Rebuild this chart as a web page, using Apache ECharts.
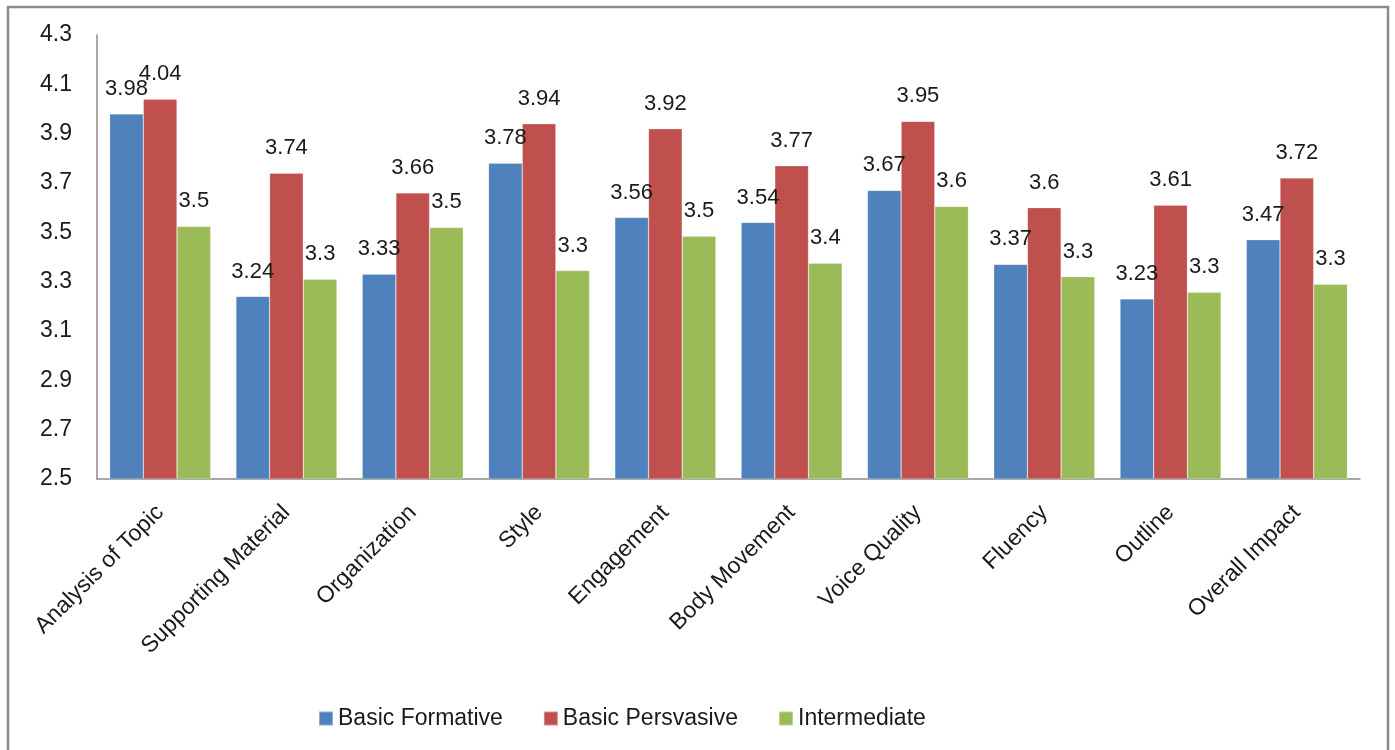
<!DOCTYPE html>
<html><head><meta charset="utf-8">
<script src="https://cdn.jsdelivr.net/npm/echarts@6/dist/echarts.min.js"></script>
<style>html,body{margin:0;padding:0;background:#fff}#c{width:1395px;height:750px}</style>
</head><body><div id="c"></div>
<script>
const categories = ["Analysis of Topic","Supporting Material","Organization","Style","Engagement","Body Movement","Voice Quality","Fluency","Outline","Overall Impact"];
const basicFormative = [3.98,3.24,3.33,3.78,3.56,3.54,3.67,3.37,3.23,3.47];
const basicPersuasive = [4.04,3.74,3.66,3.94,3.92,3.77,3.95,3.60,3.61,3.72];
const intermediate = [3.524,3.31,3.52,3.345,3.484,3.375,3.605,3.32,3.257,3.29];
const seriesNames = ["Basic Formative","Basic Persvasive","Intermediate"];
const labelDecimals = [2,2,1];
const yTickLabels = ["2.5","2.7","2.9","3.1","3.3","3.5","3.7","3.9","4.1","4.3"];
const BASE = 2.5;
const colors = ["#4F81BD","#C0504D","#9BBB59"];
const FONT = "Liberation Sans";
const chart = echarts.init(document.getElementById('c'));
const all = [basicFormative, basicPersuasive, intermediate];
chart.setOption({
  animation:false,
  textStyle:{fontFamily:FONT},
  graphic:[{type:'rect',shape:{x:8,y:7,width:1380,height:760},style:{fill:'none',stroke:'#8c8c8c',lineWidth:2.5},silent:true}],
  grid:{left:97,right:35,top:35,bottom:271,containLabel:false},
  legend:{top:702,left:313,itemWidth:14,itemHeight:14,itemGap:40,icon:'rect',
    textStyle:{fontSize:23,color:'#1a1a1a',fontFamily:FONT},data:seriesNames},
  xAxis:{type:'category',data:categories,
    axisLine:{lineStyle:{color:'#8c8c8c',width:1.5}},axisTick:{show:false},
    axisLabel:{rotate:45,interval:0,fontSize:23,color:'#1a1a1a',margin:30}},
  yAxis:{type:'value',min:0,max:1.8,interval:0.2,splitLine:{show:false},
    axisLine:{show:true,lineStyle:{color:'#8c8c8c',width:1.5}},axisTick:{show:false},
    axisLabel:{fontSize:23,color:'#1a1a1a',margin:25,formatter:(v)=>yTickLabels[Math.round(v/0.2)]}},
  series: all.map((arr,i)=>({
    name:seriesNames[i],type:'bar',barGap:'0%',barCategoryGap:'20%',
    itemStyle:{color:colors[i],borderColor:'rgba(255,255,255,0.35)',borderWidth:0.6},
    label:{show:true,position:'top',distance:14,fontSize:22,color:'#1a1a1a',fontFamily:FONT,
      formatter:(p)=>String(+arr[p.dataIndex].toFixed(labelDecimals[i]))},
    data:arr.map(v=>+(v-BASE).toFixed(4))
  }))
});
</script></body></html>
